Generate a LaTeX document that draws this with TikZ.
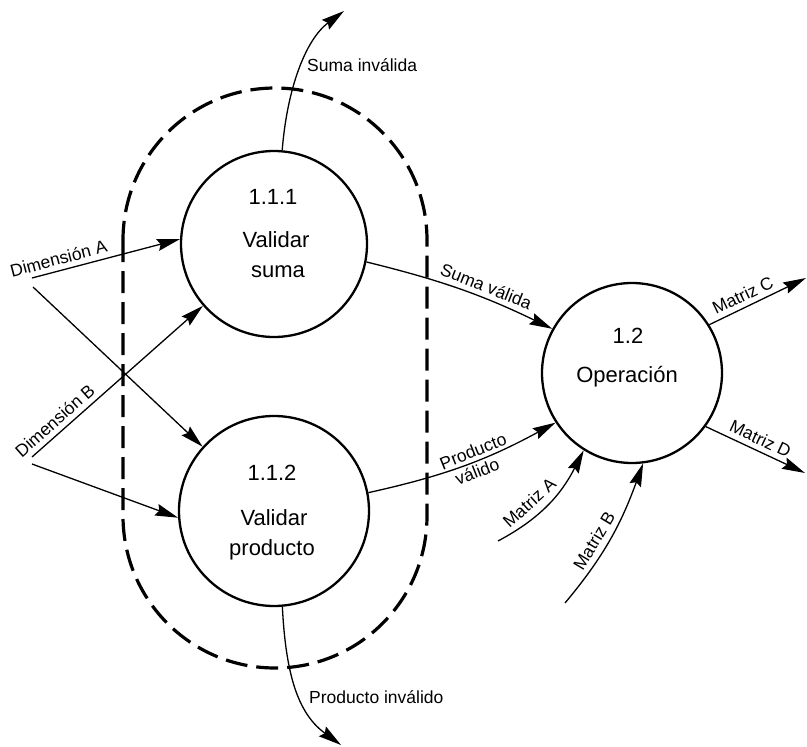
\documentclass[tikz,border=0pt]{standalone}
\usepackage{fontspec}
\setmainfont{Liberation Sans}
\usetikzlibrary{arrows.meta}
\begin{document}
\begin{tikzpicture}[x=1pt,y=1pt,
  proc/.style={circle, draw, line width=2.3pt, inner sep=0pt},
  ptext/.style={anchor=base, font=\fontsize{22}{24}\selectfont, inner sep=0pt},
  flow/.style={line width=1.3pt, -{Stealth[length=23pt,width=12pt,inset=3pt]}},
  lbl/.style={font=\fontsize{17.5}{19}\selectfont, inner sep=5pt},
  boundary/.style={line width=3.2pt, dash pattern=on 22pt off 9pt}]
\useasboundingbox (0,0) rectangle (807,-747);

% dashed boundary around the two validation processes
\draw[boundary, rounded corners=152pt] (123,-88) rectangle (427,-668);

% processes
\node[proc, minimum size=186pt] (n111) at (274,-244) {};
\node[proc, minimum size=190pt] (n112) at (274,-511) {};
\node[proc, minimum size=180pt] (n12)  at (632,-373) {};

\node[ptext] (t111a) at (273,-204) {1.1.1};
\node[ptext] (t111b) at (276,-247) {Validar};
\node[ptext] (t111c) at (278,-277) {suma};
\node[ptext] (t112a) at (272,-480) {1.1.2};
\node[ptext] (t112b) at (274,-525) {Validar};
\node[ptext] (t112c) at (272,-555) {producto};
\node[ptext] (t12a)  at (628,-343) {1.2};
\node[ptext] (t12b)  at (627,-382) {Operación};

% free ends of the flows
\coordinate (dA)  at (32,-278);
\coordinate (dA2) at (33,-287);
\coordinate (dB)  at (32,-457);
\coordinate (dB2) at (32,-464);
\coordinate (sI)  at (344,-11);
\coordinate (pI)  at (341,-745);
\coordinate (mA)  at (498,-541);
\coordinate (mB)  at (565,-603);
\coordinate (mC)  at (806,-278);
\coordinate (mD)  at (805,-473);

% inputs
\draw[flow] (dA) -- node[lbl, sloped, above, pos=0.2] {Dimensión A} (n111.177);
\draw[flow] (dA2) -- (n112.138);
\draw[flow] (dB) -- node[lbl, sloped, above, pos=0.18] {Dimensión B} (n111.221);
\draw[flow] (dB2) -- (n112.184);

% rejected data
\draw[flow] (n111.85) .. controls (287,-90) and (305,-40) .. (sI);
\node[lbl, anchor=west, inner sep=0pt] (lsI) at (307,-65) {Suma inválida};
\draw[flow] (n112.-85) .. controls (286,-680) and (300,-715) .. (pI);
\node[lbl, anchor=west, inner sep=0pt] (lpI) at (309,-697) {Producto inválido};

% validated data
\draw[flow] (n111.-11) to[bend left=6]
  node[lbl, sloped, above, pos=0.62] {Suma válida} (n12.151);
\draw[flow] (n112.11) to[bend right=8]
  node[lbl, sloped, above, pos=0.57, inner sep=3pt] {Producto}
  node[lbl, sloped, below, pos=0.55, inner sep=3pt] {válido} (n12.213);

% matrices
\draw[flow] (mA) to[out=28, in=243] node[lbl, sloped, above, pos=0.38, inner sep=7pt] {Matriz A} (n12.238);
\draw[flow] (mB) to[out=50, in=250] node[lbl, sloped, above, pos=0.42, inner sep=6pt] {Matriz B} (n12.277);
\draw[flow] (n12.32) -- node[lbl, sloped, above, pos=0.4] {Matriz C} (mC);
\draw[flow] (n12.-36) -- node[lbl, sloped, above, pos=0.5] {Matriz D} (mD);
\end{tikzpicture}
\end{document}
